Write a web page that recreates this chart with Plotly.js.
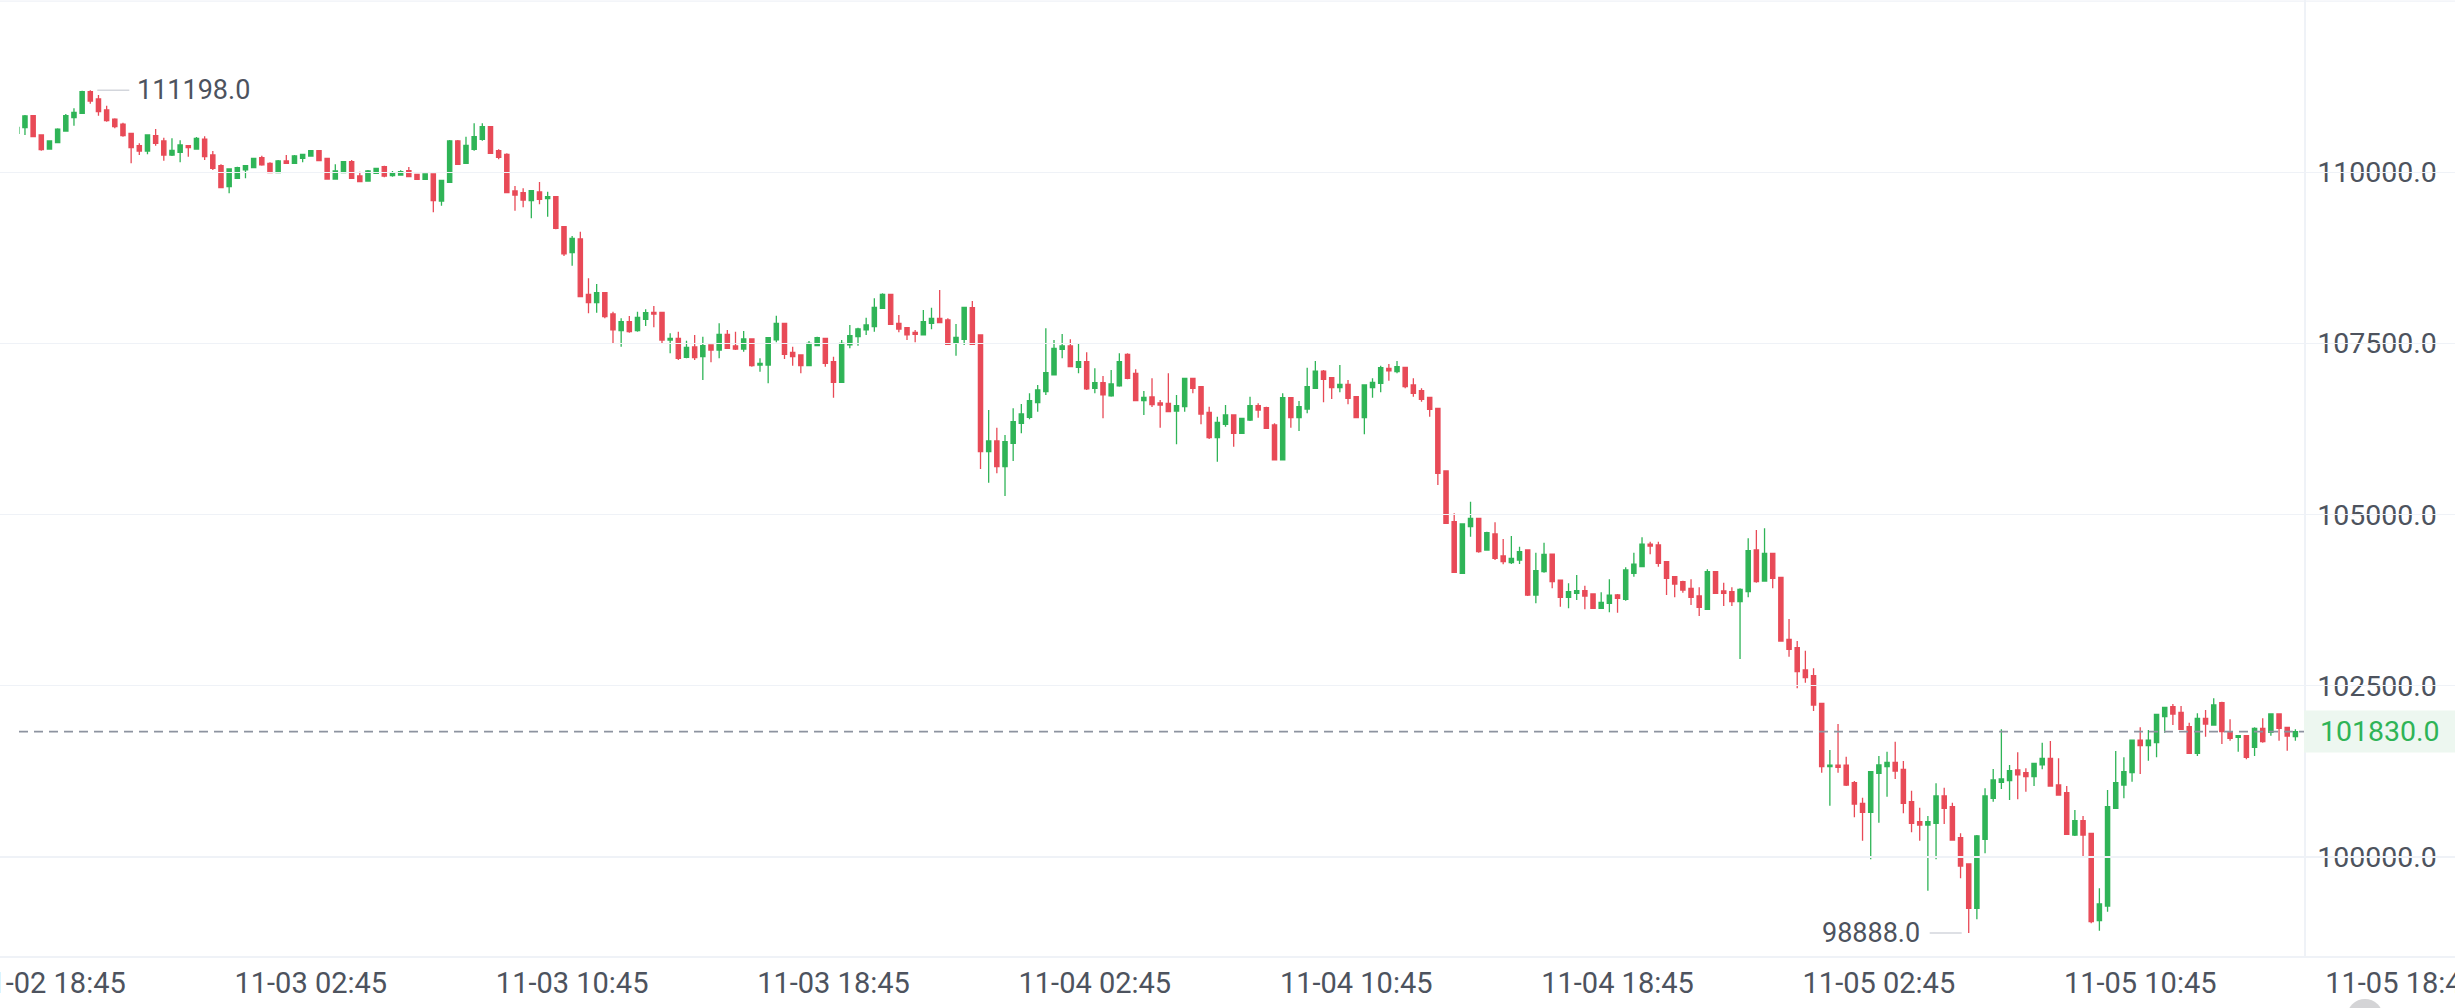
<!DOCTYPE html>
<html>
<head>
<meta charset="utf-8">
<script src="https://cdn.plot.ly/plotly-3.0.1.min.js"></script>
<style>
  html, body { margin: 0; padding: 0; background: #ffffff; }
  #chart { width: 2455px; height: 1008px; }
</style>
</head>
<body>
<div id="chart"></div>
<script>
// ---- Data: 15-minute candles, first candle 2025-11-02 17:45 ----
const startTime = '2025-11-02T17:45:00Z';
const intervalMinutes = 15;

const openPrices = [
110569,110652,110827,110545,110340,110433,110603,110798,110861,111178,
111071,110910,110778,110705,110569,110389,110311,110535,110457,110253,
110291,110389,110340,110486,110253,110097,109790,109912,110034,110068,
110214,110131,109995,110165,110131,110204,110238,110316,110204,109902,
109995,110155,109946,109873,109985,110082,109951,109960,110024,109970,
109897,109975,109581,109853,110457,110131,110335,110482,110667,110316,
110262,109727,109702,109586,109712,109615,109644,109206,108826,109026,
108217,108096,108242,107930,107687,107818,107687,107852,107955,107955,
107550,107575,107297,107448,107307,107478,107404,107633,107463,107419,
107565,107185,107185,107551,107794,107370,107331,107176,107468,107575,
107234,106932,107478,107599,107697,107745,108013,108218,107794,107731,
107663,107624,107794,107867,107843,107502,107561,108023,107624,105920,
106075,105701,106041,106334,106421,106635,106796,107040,107414,107463,
107151,107234,106845,106928,106733,106879,107341,107064,106665,106718,
106630,106625,106513,106577,106990,106868,106494,106123,106318,106455,
106187,106382,106591,106562,106309,105798,106708,106416,106542,106844,
107097,107000,106854,106903,106723,106416,106854,106917,107137,107088,
107151,106893,106810,106713,106552,105637,104897,104142,104824,104945,
104483,104717,104395,104298,104337,104483,103825,104166,104424,104044,
103791,103850,103889,103840,103631,103704,103826,103762,104142,104239,
104570,104556,104312,104093,104020,103923,103811,103616,104166,103884,
103874,103728,103874,104483,104030,104434,104084,103178,103056,102730,
102647,102243,101318,101342,101342,101084,100783,100651,101221,101318,
101382,101279,100807,100515,100466,100491,100890,100734,100281,99897,
99249,100257,100856,101089,101114,101270,101231,101172,101343,101440,
101050,100938,100320,100530,100344,99069,99283,100709,101050,101230,
101707,101625,101669,102048,102194,102112,101902,101513,102024,101927,
102253,101829,101747,101771,101601,101878,101820,102087,101893,101756
];
const highPrices = [
110691,110837,110837,110550,110465,110642,110851,110934,111190,111198,
111129,110973,110788,110725,110574,110423,110554,110632,110506,110496,
110467,110399,110515,110525,110311,110116,110058,110082,110107,110214,
110243,110146,110180,110253,110253,110272,110326,110326,110210,110116,
110160,110180,110009,110034,110068,110097,110019,110029,110077,109975,
109985,109980,109888,110472,110472,110520,110715,110715,110672,110335,
110277,109800,109766,109742,109858,109717,109649,109210,109070,109133,
108451,108368,108247,107964,107867,107901,107964,107998,108047,107964,
107648,107672,107541,107624,107599,107485,107794,107697,107672,107682,
107570,107283,107590,107906,107800,107453,107336,107536,107599,107580,
107307,107551,107770,107731,107877,108159,108232,108225,107916,107736,
107697,107989,108023,108281,107867,107784,108032,108120,107630,106528,
106270,106163,106553,106616,106772,106893,107721,107551,107638,107561,
107502,107371,107137,107025,107113,107356,107356,107122,106806,106991,
106674,107063,106747,106995,106995,106873,106577,106430,106601,106460,
106416,106723,106625,106577,106333,106771,106713,106659,107146,107243,
107112,107005,107185,106966,106728,106903,106990,107175,107200,107244,
107161,106990,106844,106718,106557,105642,105018,104868,105189,104950,
104751,104887,104644,104688,104531,104493,104444,104590,104429,104049,
103996,104118,103962,103850,103864,104054,103840,104230,104444,104668,
104604,104604,104317,104098,104035,104054,103937,104200,104171,104006,
103937,103923,104653,104775,104799,104439,104089,103475,103154,103012,
102754,102248,101561,101941,101464,101109,100865,101255,101474,101537,
101683,101401,100968,100719,100598,101075,101011,100792,100344,99906,
100320,101002,101284,101864,101343,101528,101294,101377,101669,101693,
101440,101036,100685,100598,100349,99541,100977,101547,101454,101712,
101893,101854,102088,102190,102233,102204,101961,102097,102146,102316,
102268,102010,101776,101776,101893,102024,102097,102092,101898,101864
];
const lowPrices = [
110545,110545,110515,110316,110330,110425,110593,110681,110856,111002,
110827,110739,110642,110520,110131,110253,110262,110389,110170,110238,
110145,110228,110330,110180,110033,109766,109693,109902,109912,110058,
110097,109985,109985,110121,110121,110146,110228,110165,109895,109897,
109990,109907,109853,109863,109980,109926,109936,109951,109931,109892,
109892,109415,109513,109848,110107,110126,110316,110462,110272,110189,
109693,109440,109488,109328,109532,109352,109167,108777,108636,108174,
107940,107950,107867,107492,107453,107658,107672,107755,107735,107492,
107356,107258,107283,107258,106966,107224,107283,107424,107404,107380,
107161,107088,106918,107516,107273,107176,107064,107171,107463,107161,
106708,106927,107429,107468,107624,107672,108008,107774,107663,107551,
107516,107619,107706,107794,107478,107322,107478,107478,105667,105467,
105603,105272,105783,106188,106392,106504,106748,107030,107283,107151,
107064,106820,106772,106407,106723,106869,106976,106660,106455,106572,
106270,106494,106026,106503,106771,106318,106104,105773,106284,105992,
106182,106367,106416,106250,105793,105793,106270,106221,106479,106839,
106640,106688,106786,106611,106411,106172,106708,106786,106956,107063,
106844,106722,106650,106430,105432,104867,104152,104137,104678,104444,
104473,104337,104273,104278,104278,103811,103704,104152,103923,103655,
103631,103753,103616,103621,103621,103572,103567,103743,104093,104230,
104419,104239,103826,103791,103859,103679,103519,103606,103840,103665,
103665,102891,103791,104006,104025,103923,103144,102925,102462,102545,
102131,101230,100748,101230,101036,100578,100237,99965,100500,100880,
101138,100637,100359,100237,99507,99965,100481,100237,99687,98888,
99088,100052,100807,100992,100831,100841,100953,101036,101279,101026,
100895,100320,100306,99994,99030,98923,99200,100704,100855,101099,
101211,101406,101454,101815,101927,101854,101508,101474,101756,101922,
101649,101698,101537,101425,101474,101669,101771,101698,101552,101698
];
const closePrices = [
110657,110822,110520,110330,110457,110632,110827,110876,111178,111041,
110885,110754,110666,110535,110360,110311,110545,110423,110253,110321,
110399,110360,110496,110228,110058,109776,110048,110068,110097,110204,
110107,109995,110165,110131,110238,110262,110316,110170,109902,110019,
110155,109912,109863,110019,110058,109946,109995,110009,109936,109897,
109975,109586,109883,110457,110116,110392,110520,110667,110277,110219,
109702,109668,109595,109732,109605,109644,109181,108807,109035,108183,
108096,108242,107891,107697,107818,107672,107882,107950,107930,107550,
107575,107283,107443,107295,107468,107404,107633,107429,107419,107565,
107176,107210,107585,107794,107341,107307,107176,107502,107585,107210,
106932,107502,107614,107711,107770,108028,108218,107779,107711,107624,
107633,107818,107867,107804,107488,107590,108028,107488,105920,106075,
105701,106066,106358,106470,106665,106821,107074,107429,107463,107161,
107234,106835,106928,106748,106908,107234,106991,106665,106713,106606,
106601,106503,106591,106990,106844,106469,106123,106347,106455,106187,
106406,106591,106528,106260,105798,106708,106416,106577,106868,107097,
106976,106854,106903,106698,106416,106893,106932,107146,107098,107161,
106869,106771,106684,106537,105603,104872,104157,104863,104945,104458,
104736,104361,104312,104361,104458,103825,104181,104419,104020,103791,
103874,103889,103811,103631,103718,103825,103777,104191,104278,104570,
104541,104288,104069,103986,103898,103791,103645,104166,103850,103850,
103728,103908,104473,104020,104434,104069,103154,103032,102706,102618,
102219,101318,101342,101308,101050,100773,100651,101245,101343,101382,
101255,100783,100491,100466,100515,100890,100710,100247,99867,99249,
100306,100890,101124,101138,101260,101197,101172,101367,101440,101036,
100904,100330,100530,100320,99054,99312,100734,101084,101245,101707,
101625,101707,102083,102185,102087,101863,101513,102024,101941,102219,
101829,101732,101771,101454,101878,101683,102087,101878,101766,101830
];
const yTickValues = [100000, 102500, 105000, 107500, 110000];
const xTickStart = '2025-11-02 18:45';
const xTickHours = 8;

// ---- Build ----
const stepMs = intervalMinutes * 60000;
const t0 = Date.parse(startTime);
const fmtDate = ms => new Date(ms).toISOString().replace('T', ' ').replace('Z', '');
const times = closePrices.map((_, i) => fmtDate(t0 + i * stepMs));

// layout geometry (page pixels)
const W = 2455, H = 1008;
const plotLeft = 19, plotRight = 2304, plotBottom = 956;
const firstCandlePx = 16.8, pxPerStep = 8.167;
const kLeft = (plotLeft - firstCandlePx) / pxPerStep;
const kRight = (plotRight - firstCandlePx) / pxPerStep;
const msPerPx = stepMs / pxPerStep;
const xRange = [fmtDate(t0 + kLeft * stepMs), fmtDate(t0 + kRight * stepMs)];
const x2Range = [fmtDate(t0 + kLeft * stepMs - plotLeft * msPerPx),
                 fmtDate(t0 + kRight * stepMs + (W - plotRight) * msPerPx)];
// price scale: 100000 at y=856.9, 14.607 per px
const pricePerPx = 14.607, y100k = 856.9;
const yRange = [100000 - (plotBottom - y100k) * pricePerPx, 100000 + y100k * pricePerPx];

const GREEN = '#2fb457', RED = '#e84a57', TEXT = '#4d535e', GRID = '#eff2f7';
const FONT = 'Roboto, "Liberation Sans", Arial, sans-serif';

let iMax = 0, iMin = 0;
highPrices.forEach((v, i) => { if (v > highPrices[iMax]) iMax = i; });
lowPrices.forEach((v, i) => { if (v < lowPrices[iMin]) iMin = i; });
const lastPrice = closePrices[closePrices.length - 1];

const candles = {
  type: 'candlestick',
  x: times, open: openPrices, high: highPrices, low: lowPrices, close: closePrices,
  increasing: { line: { color: GREEN, width: 1.3 }, fillcolor: GREEN },
  decreasing: { line: { color: RED, width: 1.3 }, fillcolor: RED },
  whiskerwidth: 0,
  hoverinfo: 'skip',
  showlegend: false
};
// invisible companion trace so the full-width time axis (xaxis2) gets drawn
const timeAxisCarrier = {
  type: 'scatter', mode: 'lines', x: times, y: closePrices,
  xaxis: 'x2', yaxis: 'y',
  line: { width: 0, color: 'rgba(0,0,0,0)' }, opacity: 0,
  hoverinfo: 'skip', showlegend: false
};

const layout = {
  width: W, height: H,
  margin: { l: 0, r: 0, t: 0, b: H - plotBottom, pad: 0 },
  paper_bgcolor: '#ffffff',
  plot_bgcolor: 'rgba(0,0,0,0)',
  font: { family: FONT, size: 28.5, color: TEXT },
  showlegend: false,
  hovermode: false,
  dragmode: false,
  boxgap: 0.28, boxgroupgap: 0.28,
  xaxis: {
    type: 'date', domain: [plotLeft / W, plotRight / W], range: xRange,
    showticklabels: false, showgrid: false, zeroline: false, showline: false,
    ticks: '', rangeslider: { visible: false }, fixedrange: true, anchor: 'y'
  },
  xaxis2: {
    type: 'date', domain: [0, 1], range: x2Range, anchor: 'y',
    tick0: xTickStart, dtick: xTickHours * 3600000, tickformat: '%m-%d %H:%M',
    showgrid: false, zeroline: false, showline: true, linecolor: GRID, linewidth: 1.5,
    ticks: '', ticklabelstandoff: 1, ticklabeloverflow: 'allow',
    tickfont: { size: 29, color: TEXT }, fixedrange: true,
    rangeslider: { visible: false }
  },
  yaxis: {
    domain: [0, 1], range: yRange, side: 'right', anchor: 'x',
    tickvals: yTickValues, tickformat: '.1f',
    showgrid: true, gridcolor: GRID, gridwidth: 1.3, zeroline: false,
    showline: true, linecolor: GRID, linewidth: 1.5,
    ticks: 'outside', ticklen: 4, tickcolor: GRID, tickwidth: 1.3,
    ticklabelstandoff: 2, tickfont: { size: 28.5, color: TEXT }, fixedrange: true
  },
  shapes: [
    { type: 'line', xref: 'paper', yref: 'y', x0: 0, x1: 1, y0: 112500, y1: 112500,
      line: { color: GRID, width: 1.3 } },
    { type: 'line', xref: 'paper', yref: 'y', x0: plotLeft / W, x1: plotRight / W,
      y0: lastPrice, y1: lastPrice, line: { color: '#8d93a0', width: 1.6, dash: '9px,6px' } },
    { type: 'rect', xref: 'paper', yref: 'y', x0: plotRight / W, x1: 1,
      ysizemode: 'pixel', yanchor: lastPrice, y0: -21, y1: 21,
      fillcolor: '#edf7f0', line: { width: 0 } },
    { type: 'line', xref: 'x', yref: 'y', xsizemode: 'pixel', xanchor: times[iMax],
      x0: 7, x1: 39, y0: highPrices[iMax], y1: highPrices[iMax],
      line: { color: '#d3d6dc', width: 1.4 } },
    { type: 'line', xref: 'x', yref: 'y', xsizemode: 'pixel', xanchor: times[iMin],
      x0: -39, x1: -7, y0: lowPrices[iMin], y1: lowPrices[iMin],
      line: { color: '#d3d6dc', width: 1.4 } },
    { type: 'circle', xref: 'paper', yref: 'paper',
      x0: 2347 / W, x1: 2383 / W, y0: (plotBottom - 1035) / plotBottom, y1: (plotBottom - 999) / plotBottom,
      fillcolor: '#d4d4d6', line: { width: 0 } }
  ],
  annotations: [
    { xref: 'paper', yref: 'y', x: 2318 / W, y: lastPrice, xanchor: 'left', yanchor: 'middle',
      text: lastPrice.toFixed(1), showarrow: false, font: { size: 28.5, color: GREEN } },
    { xref: 'x', yref: 'y', x: times[iMax], y: highPrices[iMax], xanchor: 'left', yanchor: 'middle',
      xshift: 45, text: highPrices[iMax].toFixed(1), showarrow: false, font: { size: 27, color: TEXT } },
    { xref: 'x', yref: 'y', x: times[iMin], y: lowPrices[iMin], xanchor: 'right', yanchor: 'middle',
      xshift: -47, text: lowPrices[iMin].toFixed(1), showarrow: false, font: { size: 27, color: TEXT } }
  ]
};

Plotly.newPlot('chart', [candles, timeAxisCarrier], layout, { displayModeBar: false, staticPlot: true });
</script>
</body>
</html>
